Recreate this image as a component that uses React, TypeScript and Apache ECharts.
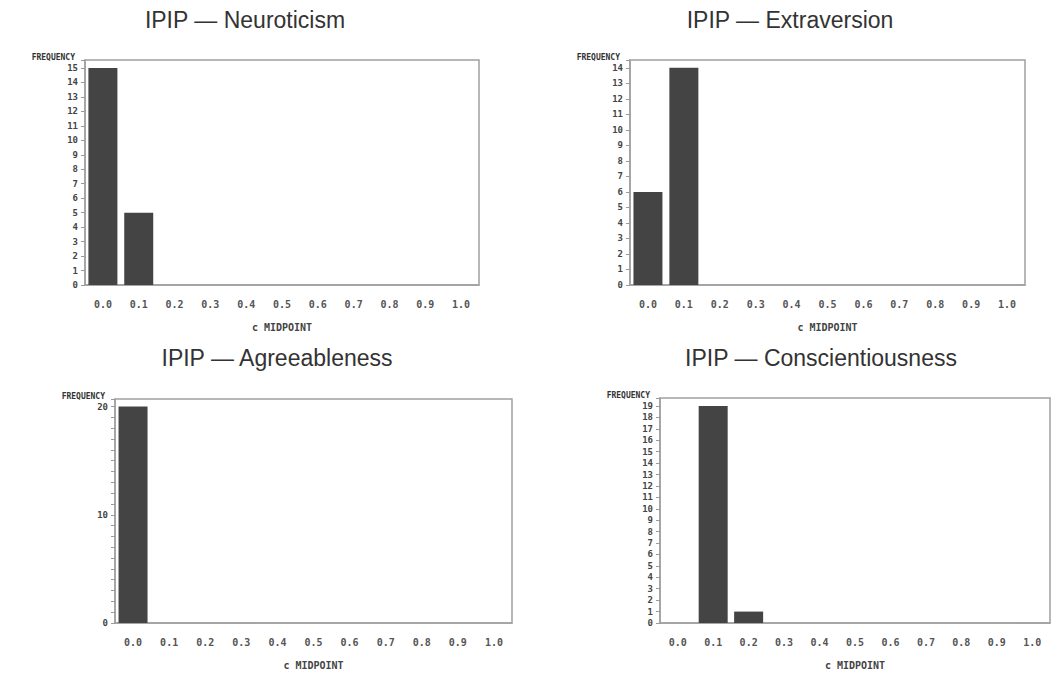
import React, { useEffect, useRef } from "react";
import * as echarts from "echarts";

const categories = ["0.0", "0.1", "0.2", "0.3", "0.4", "0.5", "0.6", "0.7", "0.8", "0.9", "1.0"];
const neuroticism = [15, 5, 0, 0, 0, 0, 0, 0, 0, 0, 0];
const extraversion = [6, 14, 0, 0, 0, 0, 0, 0, 0, 0, 0];
const agreeableness = [20, 0, 0, 0, 0, 0, 0, 0, 0, 0, 0];
const conscientiousness = [0, 19, 1, 0, 0, 0, 0, 0, 0, 0, 0];
const titles = ["IPIP — Neuroticism", "IPIP — Extraversion", "IPIP — Agreeableness", "IPIP — Conscientiousness"];
const yMax = [15.55, 14.5, 20.7, 19.7];
const labelEvery = [1, 1, 10, 1];
const yName = "FREQUENCY";
const xName = "c MIDPOINT";

const grids = [
  { left: 85, top: 60, width: 394, height: 225 },
  { left: 630, top: 60, width: 395, height: 225 },
  { left: 115, top: 399, width: 397, height: 224 },
  { left: 660, top: 398, width: 390, height: 225 },
];
const titlePos = [
  { x: 245, y: 20 },
  { x: 790, y: 20 },
  { x: 277, y: 358 },
  { x: 821, y: 358 },
];

export default function App() {
  const ref = useRef<HTMLDivElement>(null);
  useEffect(() => {
    document.body.style.margin = "0";
    const chart = echarts.init(ref.current!, null, { renderer: "svg" });
    const series = [neuroticism, extraversion, agreeableness, conscientiousness];
    const mono = "DejaVu Sans Mono";
    chart.setOption({
      animation: false,
      backgroundColor: "#fff",
      grid: grids.map((g) => ({ ...g, show: true, borderColor: "#a0a0a0", borderWidth: 1.5, backgroundColor: "transparent" })),
      xAxis: grids.map((_, i) => ({
        type: "category",
        gridIndex: i,
        data: categories,
        boundaryGap: true,
        axisLine: { lineStyle: { color: "#a0a0a0", width: 1.5 } },
        axisTick: { show: false },
        axisLabel: { margin: 14, fontFamily: mono, fontSize: 10, fontWeight: "bold", color: "#555" },
        name: xName,
        nameLocation: "middle",
        nameGap: 37,
        nameTextStyle: { fontFamily: mono, fontSize: 10, fontWeight: "bold", color: "#444" },
        splitLine: { show: false },
      })),
      yAxis: grids.map((_, i) => ({
        type: "value",
        gridIndex: i,
        min: 0,
        max: yMax[i],
        interval: 1,
        axisLine: { show: true, lineStyle: { color: "#a0a0a0", width: 1.5 } },
        axisTick: { show: true, length: 4, lineStyle: { color: "#999" } },
        axisLabel: {
          margin: 7,
          fontFamily: mono,
          fontSize: 9,
          fontWeight: "bold",
          color: "#444",
          formatter: (v: number) => (Math.abs(v - Math.round(v)) < 1e-6 && Math.round(v) % labelEvery[i] === 0 ? String(Math.round(v)) : ""),
        },
        splitLine: { show: false },
      })),
      series: series.map((d, i) => ({
        type: "bar",
        xAxisIndex: i,
        yAxisIndex: i,
        data: d,
        barWidth: 29,
        itemStyle: { color: "#444", borderWidth: 0 },
      })),
      graphic: [
        ...titles.map((t, i) => ({
          type: "text",
          x: titlePos[i].x,
          y: titlePos[i].y,
          style: { text: t, fontFamily: "Liberation Sans", fontSize: 23, fill: "#333", align: "center", verticalAlign: "middle" },
        })),
        ...grids.map((g) => ({
          type: "text",
          x: g.left - 10,
          y: g.top - 3,
          style: { text: yName, fontFamily: mono, fontSize: 8, fontWeight: "bold", fill: "#333", align: "right", verticalAlign: "middle" },
        })),
      ],
    });
    return () => chart.dispose();
  }, []);
  return <div ref={ref} style={{ width: 1052, height: 677 }} />;
}
